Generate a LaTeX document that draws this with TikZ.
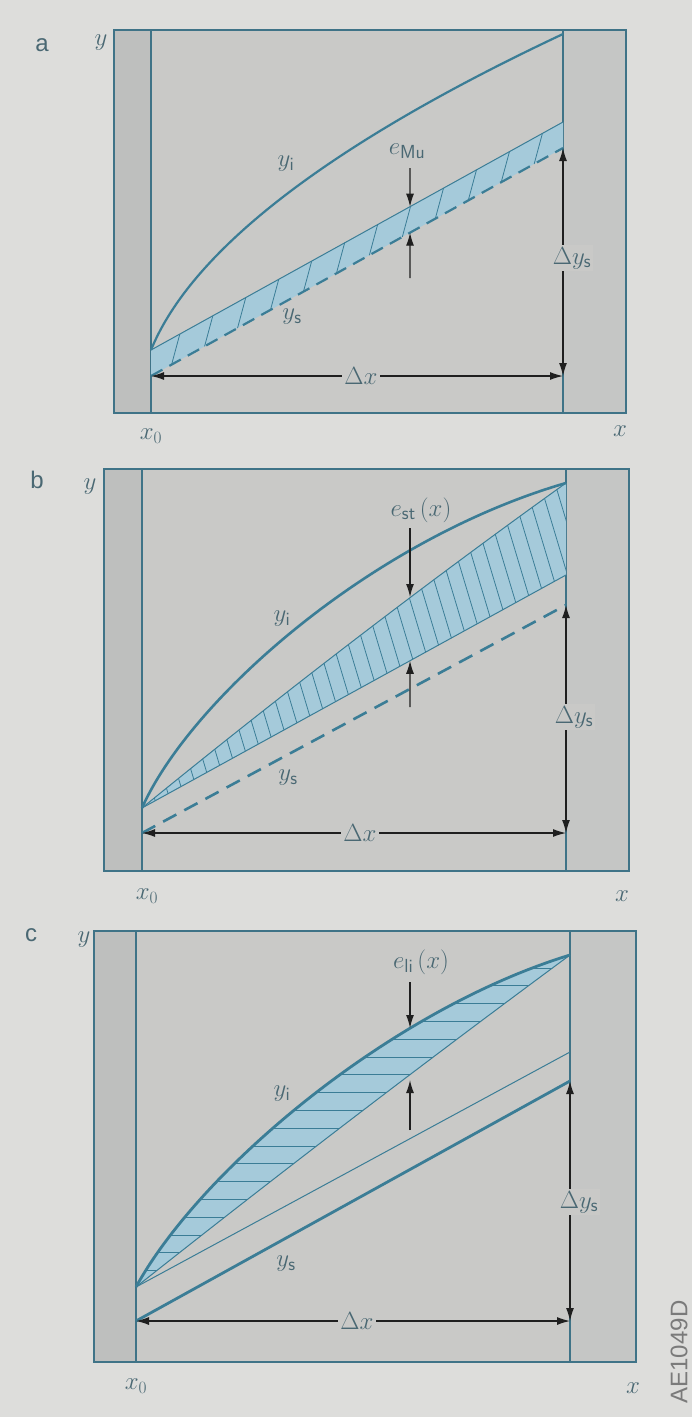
\documentclass[tikz,border=0pt]{standalone}
\usepackage{amsmath}
\usepackage{fontspec}
\newfontfamily\labfont{Liberation Sans}
\usetikzlibrary{arrows.meta,calc}
\definecolor{pagebg}{HTML}{DDDDDB}
\definecolor{innerbg}{HTML}{C9C9C7}
\definecolor{stripbg}{HTML}{BEBFBE}
\definecolor{rstripbg}{HTML}{C5C6C5}
\definecolor{tealline}{HTML}{3B7D96}
\definecolor{bluefill}{HTML}{A5CADA}
\definecolor{labcol}{HTML}{4A6873}
\definecolor{arrowcol}{HTML}{1F1F1F}
\definecolor{boxline}{HTML}{3F7387}
\definecolor{codecol}{HTML}{7A7A7A}
\tikzset{
  boxframe/.style={draw=boxline, line width=1.5pt},
  innerline/.style={draw=boxline, line width=1.2pt},
  curvethick/.style={draw=tealline, line width=2.4pt},
  thinline/.style={draw=tealline, line width=1pt},
  dashline/.style={draw=tealline, line width=2.2pt, dash pattern=on 13pt off 8pt},
  hatchline/.style={draw=tealline, line width=0.8pt},
  dimarrow/.style={draw=arrowcol, line width=1.2pt, {Latex[length=13pt,width=8pt]}-{Latex[length=13pt,width=8pt]}},
  onearrow/.style={draw=arrowcol, line width=1.2pt, -{Latex[length=13pt,width=8pt]}},
  lbl/.style={text=labcol, font=\fontsize{27}{32}\selectfont, inner sep=1pt},
  dimlbl/.style={lbl, fill=innerbg, inner sep=2pt},
  panellbl/.style={text=labcol, font=\labfont\fontsize{24}{28}\selectfont},
}
\begin{document}
\begin{tikzpicture}[x=1pt,y=-1pt]
\useasboundingbox (0,0) rectangle (692,1417);
\fill[pagebg] (0,0) rectangle (692,1417);

% ================= Panel a =================
\fill[innerbg] (114,30) rectangle (626,413);
\fill[stripbg] (114,30) rectangle (151,413);
\fill[rstripbg] (563,30) rectangle (626,413);
\draw[boxframe] (114,30) rectangle (626,413);
\draw[innerline] (151,30) -- (151,413);
\draw[innerline] (563,30) -- (563,413);

\coordinate (aS) at (151,350);
\coordinate (aE) at (563,34);
\coordinate (aU1) at (563,122);
\coordinate (aL0) at (151,376);
\coordinate (aL1) at (563,148);
\coordinate (aCorner) at (563,376);

\fill[bluefill] (aS) -- (aU1) -- (aL1) -- (aL0) -- cycle;
\foreach \t [evaluate=\t as \u using \t+0.02] in {0.05,0.13,...,0.97}
  \draw[hatchline] ($(aL0)!\t!(aL1)$) -- ($(aS)!\u!(aU1)$);
\draw[thinline] (aS) -- (aU1);
\draw[dashline] (aL0) -- (aL1);
\draw[curvethick, line width=2.2pt] (aS) .. controls (200,230) and (380,120) .. (aE);

\coordinate (aTopTip) at (intersection of aS--aU1 and 410,0--410,400);
\coordinate (aBotTip) at (intersection of aL0--aL1 and 410,0--410,400);
\coordinate (aArrTop) at (410,168);
\coordinate (aArrBot) at (410,278);
\draw[onearrow] (aArrTop) -- (aTopTip);
\draw[onearrow] (aArrBot) -- (aBotTip);

\draw[dimarrow] (aL1) -- (aCorner);
\draw[dimarrow] (aL0) -- (aCorner);

\node[panellbl] (alab) at (42,45) {a};
\node[lbl] (ay) at (101,43) {$y$};
\node[lbl] (ayi) at (286,164) {$y_{\mathsf{i}}$};
\node[lbl] (ays) at (292,317) {$y_{\mathsf{s}}$};
\node[lbl] (aeMu) at (407,151) {$e_{\mathsf{Mu}}$};
\node[dimlbl] (aDy) at (572,258) {$\Delta y_{\mathsf{s}}$};
\node[dimlbl] (aDx) at (361,376) {$\Delta x$};
\node[lbl] (ax0) at (151,436) {$x_0$};
\node[lbl] (ax) at (620,431) {$x$};

% ================= Panel b =================
\fill[innerbg] (104,469) rectangle (629,871);
\fill[stripbg] (104,469) rectangle (142,871);
\fill[rstripbg] (566,469) rectangle (629,871);
\draw[boxframe] (104,469) rectangle (629,871);
\draw[innerline] (142,469) -- (142,871);
\draw[innerline] (566,469) -- (566,871);

\coordinate (bS) at (142,808);
\coordinate (bE) at (566,483);
\coordinate (bL1) at (566,575);
\coordinate (bD0) at (142,833);
\coordinate (bD1) at (566,605);
\coordinate (bCorner) at (566,833);

\fill[bluefill] (bS) .. controls (283,693) and (425,584) .. (bE) -- (bL1) -- cycle;
\begin{scope}
  \clip (bS) .. controls (283,693) and (425,584) .. (bE) -- (bL1) -- cycle;
  \foreach \k in {0,...,40}
    \draw[hatchline] ({20+15*\k},450) -- ({20+15*\k+0.3*420},870);
\end{scope}
\draw[thinline] (bS) .. controls (283,693) and (425,584) .. (bE);
\draw[thinline] (bS) -- (bL1);
\draw[dashline, line width=2.6pt, dash pattern=on 15pt off 9pt] (bD0) -- (bD1);
\draw[curvethick, line width=2.6pt] (bS) .. controls (190,700) and (370,540) .. (bE);

\coordinate (bTopTip) at (410,597);
\coordinate (bBotTip) at (intersection of bS--bL1 and 410,450--410,850);
\coordinate (bArrTop) at (410,528);
\coordinate (bArrBot) at (410,707);
\draw[onearrow] (bArrTop) -- (bTopTip);
\draw[onearrow] (bArrBot) -- (bBotTip);

\draw[dimarrow] (bD1) -- (bCorner);
\draw[dimarrow] (bD0) -- (bCorner);

\node[panellbl] (blab) at (37,480) {b};
\node[lbl] (by) at (90,487) {$y$};
\node[lbl] (byi) at (282,619) {$y_{\mathsf{i}}$};
\node[lbl] (bys) at (288,778) {$y_{\mathsf{s}}$};
\node[lbl] (best) at (421,510) {$e_{\mathsf{st}}\,(x)$};
\node[dimlbl] (bDy) at (574,717) {$\Delta y_{\mathsf{s}}$};
\node[dimlbl] (bDx) at (360,833) {$\Delta x$};
\node[lbl] (bx0) at (147,896) {$x_0$};
\node[lbl] (bx) at (622,896) {$x$};

% ================= Panel c =================
\fill[innerbg] (94,931) rectangle (636,1362);
\fill[stripbg] (94,931) rectangle (136,1362);
\fill[rstripbg] (570,931) rectangle (636,1362);
\draw[boxframe] (94,931) rectangle (636,1362);
\draw[innerline] (136,931) -- (136,1362);
\draw[innerline] (570,931) -- (570,1362);

\coordinate (cS) at (136,1287);
\coordinate (cE) at (570,955);
\coordinate (cM1) at (570,1052);
\coordinate (cT0) at (136,1321);
\coordinate (cT1) at (570,1081);
\coordinate (cCorner) at (570,1321);

\fill[bluefill] (cS) .. controls (200,1170) and (390,1010) .. (cE)
   .. controls (425,1062) and (281,1172) .. (cS) -- cycle;
\begin{scope}
  \clip (cS) .. controls (200,1170) and (390,1010) .. (cE)
   .. controls (425,1062) and (281,1172) .. (cS) -- cycle;
  \foreach \k in {0,...,18}
    \draw[hatchline] (100,{968+17.8*\k}) -- (600,{968+17.8*\k});
\end{scope}
\draw[thinline] (cE) .. controls (425,1062) and (281,1172) .. (cS);
\draw[thinline] (cS) -- (cM1);
\draw[curvethick, line width=2.8pt] (cT0) -- (cT1);
\draw[curvethick, line width=2.8pt] (cS) .. controls (200,1170) and (390,1010) .. (cE);

\coordinate (cTopTip) at (410,1028);
\coordinate (cBotTip) at (410,1080);
\coordinate (cArrTop) at (410,982);
\coordinate (cArrBot) at (410,1130);
\draw[onearrow] (cArrTop) -- (cTopTip);
\draw[onearrow] (cArrBot) -- (cBotTip);

\draw[dimarrow] (cT1) -- (cCorner);
\draw[dimarrow] (cT0) -- (cCorner);

\node[panellbl] (clab) at (31,935) {c};
\node[lbl] (cy) at (84,940) {$y$};
\node[lbl] (cyi) at (282,1094) {$y_{\mathsf{i}}$};
\node[lbl] (cys) at (286,1264) {$y_{\mathsf{s}}$};
\node[lbl] (celi) at (421,962) {$e_{\mathsf{li}}\,(x)$};
\node[dimlbl] (cDy) at (579,1202) {$\Delta y_{\mathsf{s}}$};
\node[dimlbl] (cDx) at (357,1321) {$\Delta x$};
\node[lbl] (cx0) at (136,1386) {$x_0$};
\node[lbl] (cx) at (633,1388) {$x$};

\node[rotate=90, text=codecol, font=\labfont\fontsize{24}{28}\selectfont] (code) at (679,1352) {AE1049D};
\end{tikzpicture}
\end{document}
